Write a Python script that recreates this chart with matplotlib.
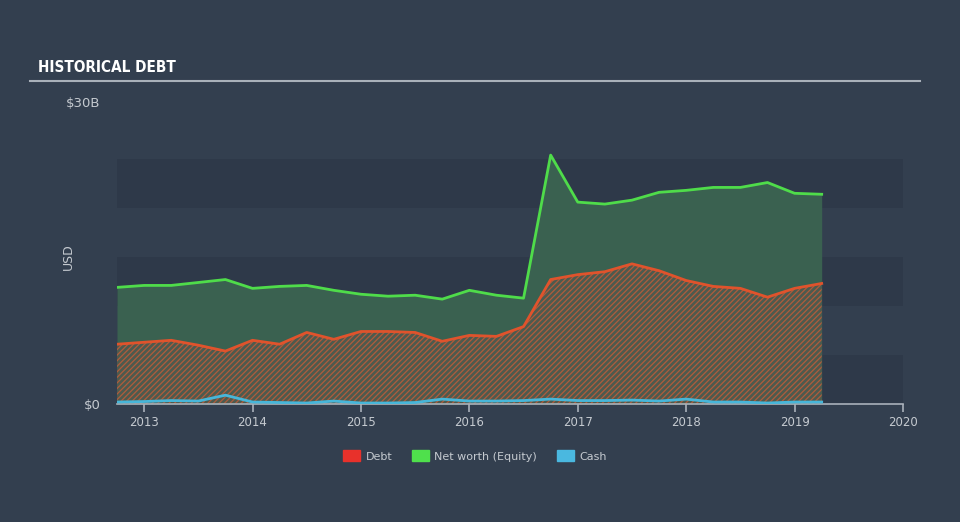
import numpy as np
import matplotlib
matplotlib.use("Agg")
import matplotlib.pyplot as plt
from matplotlib.patches import Patch

# quarterly values, billions USD
years = [2012.75, 2013.0, 2013.25, 2013.5, 2013.75, 2014.0, 2014.25, 2014.5, 2014.75,
         2015.0, 2015.25, 2015.5, 2015.75, 2016.0, 2016.25, 2016.5, 2016.75,
         2017.0, 2017.25, 2017.5, 2017.75, 2018.0, 2018.25, 2018.5, 2018.75,
         2019.0, 2019.25]
equity = [11.9, 12.1, 12.1, 12.4, 12.7, 11.8, 12.0, 12.1, 11.6,
          11.2, 11.0, 11.1, 10.7, 11.6, 11.1, 10.8, 25.4,
          20.6, 20.4, 20.8, 21.6, 21.8, 22.1, 22.1, 22.6,
          21.5, 21.4]
debt = [6.1, 6.3, 6.5, 6.0, 5.4, 6.5, 6.1, 7.3, 6.6,
        7.4, 7.4, 7.3, 6.4, 7.0, 6.9, 7.9, 12.7,
        13.2, 13.5, 14.3, 13.6, 12.6, 12.0, 11.8, 10.9,
        11.8, 12.3]
cash = [0.2, 0.25, 0.35, 0.3, 0.9, 0.2, 0.15, 0.1, 0.3,
        0.1, 0.1, 0.15, 0.5, 0.3, 0.3, 0.35, 0.5,
        0.35, 0.35, 0.4, 0.3, 0.5, 0.2, 0.2, 0.1,
        0.2, 0.2]

xticks = [2013, 2014, 2015, 2016, 2017, 2018, 2019, 2020]
yticks = [0, 30]
ytick_labels = ["$0", "$30B"]

bg = "#333f4f"
band = "#2e3949"
txt = "#c5cad0"

plt.rcParams["hatch.linewidth"] = 0.9
plt.rcParams["hatch.color"] = "#b05c3c"

fig = plt.figure(figsize=(9.6, 5.22), dpi=100, facecolor=bg)
ax = fig.add_axes([117/960, 1-404/522, (903-117)/960, 294/522])
ax.set_facecolor(bg)

# alternating bands
for lo in [0, 10, 20]:
    ax.axhspan(lo, lo + 5, color=band, lw=0, zorder=0)

x = np.array(years)
ax.fill_between(x, 0, equity, color="#3a6150", lw=0, zorder=1)
ax.fill_between(x, 0, debt, facecolor="#4d5a4e", edgecolor="#b05c3c",
                hatch="//////", lw=0, zorder=2)
ax.plot(x, equity, color="#4fdc4a", lw=2, zorder=4)
ax.plot(x, debt, color="#e0532c", lw=2, zorder=4)
ax.plot(x, cash, color="#47b6d9", lw=2, zorder=5)

ax.set_xlim(2012.75, 2020.0)
ax.set_ylim(0, 30)

for s in ["top", "right", "left"]:
    ax.spines[s].set_visible(False)
ax.spines["bottom"].set_color("#a9b1ba")
ax.spines["bottom"].set_linewidth(1.2)

ax.set_xticks(xticks)
ax.set_xticklabels([str(v) for v in xticks])
ax.set_yticks(yticks)
ax.set_yticklabels(ytick_labels)
ax.tick_params(axis="x", colors="#a9b1ba", labelcolor=txt, length=6, width=1.2,
               labelsize=8.5, pad=3)
ax.tick_params(axis="y", length=0, labelcolor=txt, labelsize=9.5, pad=12)
ax.get_yticklabels()[1].set_va("bottom")
ax.set_ylabel("USD", color=txt, fontsize=9)
ax.yaxis.set_label_coords(-0.053, 0.5)

# title
fig.text(38/960, 1-68/522, "HISTORICAL DEBT", color="white", fontsize=11,
         fontweight="bold", fontstretch="condensed", family="DejaVu Sans",
         va="center", ha="left")
fig.add_artist(plt.Line2D([30/960, 920/960], [1-81/522, 1-81/522],
                          color="#a9b1ba", lw=1.5))

handles = [Patch(color="#e8312b", label="Debt"),
           Patch(color="#4fe04c", label="Net worth (Equity)"),
           Patch(color="#4ab8e0", label="Cash")]
leg = fig.legend(handles=handles, loc="center", bbox_to_anchor=(475/960, 1-456/522),
                 ncol=3, frameon=False, fontsize=8, handlelength=1.5,
                 handleheight=1.1, columnspacing=1.8, handletextpad=0.5)
for t in leg.get_texts():
    t.set_color(txt)

fig.savefig("out.png", dpi=100, facecolor=bg)
